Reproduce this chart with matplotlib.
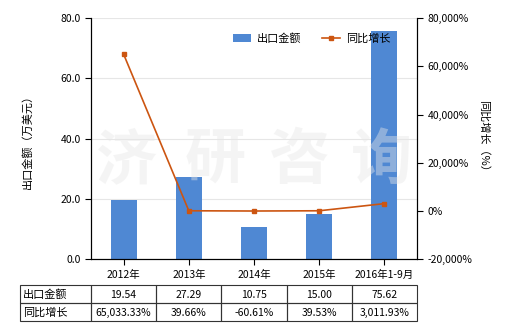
import matplotlib.pyplot as plt
from matplotlib.patches import Rectangle
from matplotlib.ticker import FuncFormatter
import numpy as np

plt.rcParams['font.family'] = ['Noto Sans CJK SC', 'DejaVu Sans']

years = ['2012年', '2013年', '2014年', '2015年', '2016年1-9月']
export_value = [19.54, 27.29, 10.75, 15.00, 75.62]
yoy_growth = [65033.33, 39.66, -60.61, 39.53, 3011.93]
value_labels = ['19.54', '27.29', '10.75', '15.00', '75.62']
growth_labels = ['65,033.33%', '39.66%', '-60.61%', '39.53%', '3,011.93%']

bar_color = '#4f88d3'
line_color = '#cc5511'

fig = plt.figure(figsize=(5.2, 3.3), dpi=100)
ax = fig.add_axes([0.175, 0.215, 0.627, 0.730])
x = np.arange(len(years))

ax.bar(x, export_value, width=0.4, color=bar_color, zorder=2, label='出口金额')
ax.set_xlim(-0.5, len(years) - 0.5)
ax.set_ylim(0, 80)
ax.set_yticks([0, 20, 40, 60, 80])
ax.yaxis.set_major_formatter(FuncFormatter(lambda v, p: '%.1f' % v))
ax.grid(axis='y', color='#e6e6e6', linewidth=0.8, zorder=0)
ax.set_axisbelow(True)
ax.set_xticks(x)
ax.set_xticklabels(years)
ax.set_ylabel('出口金额（万美元）', fontsize=8, labelpad=20)
ax.spines['top'].set_visible(False)
ax.tick_params(labelsize=7.5, length=4, width=0.8)

ax2 = ax.twinx()
ax2.plot(x, yoy_growth, color=line_color, marker='s', markersize=3, linewidth=1.2,
         zorder=3, label='同比增长')
ax2.set_ylim(-20000, 80000)
ax2.set_yticks(np.arange(-20000, 80001, 20000))
ax2.yaxis.set_major_formatter(FuncFormatter(lambda v, p: '{:,.0f}%'.format(v)))
ax2.set_ylabel('同比增长（%）', fontsize=8, rotation=-90, labelpad=12)
ax2.spines['top'].set_visible(False)
ax2.tick_params(labelsize=7.5, length=4, width=0.8)

# watermark over the bars
for cx, ch in zip([0.107, 0.382, 0.641, 0.89], '济研咨询'):
    ax2.text(cx, 0.407, ch, transform=ax2.transAxes, fontsize=44,
             color='#e7e7e7', alpha=0.42, ha='center', va='center', zorder=5,
             fontweight='bold')

h1, l1 = ax.get_legend_handles_labels()
h2, l2 = ax2.get_legend_handles_labels()
ax2.legend(h1 + h2, l1 + l2, loc='upper right', bbox_to_anchor=(0.95, 0.98),
           ncol=2, frameon=False, fontsize=8, handlelength=1.6, columnspacing=1.8,
           handletextpad=0.6)

# data table under the chart (axes coordinates)
x0 = (20 - 91) / 326
row_tops = [-0.108, -0.183]
row_h = 0.075
col_w = 1 / len(years)
rows = [('出口金额', value_labels), ('同比增长', growth_labels)]
for r, (name, vals) in enumerate(rows):
    top = row_tops[r]
    ax.add_patch(Rectangle((x0, top - row_h), -x0, row_h, transform=ax.transAxes,
                           fill=False, edgecolor='#333333', lw=0.8, clip_on=False))
    ax.text(x0 + 0.008, top - row_h / 2, name, transform=ax.transAxes,
            fontsize=8, ha='left', va='center')
    for j, v in enumerate(vals):
        ax.add_patch(Rectangle((j * col_w, top - row_h), col_w, row_h,
                               transform=ax.transAxes, fill=False,
                               edgecolor='#333333', lw=0.8, clip_on=False))
        ax.text((j + 0.5) * col_w, top - row_h / 2 - 0.005, v, transform=ax.transAxes,
                fontsize=7.5, ha='center', va='center')

fig.savefig('out.png', dpi=100)
